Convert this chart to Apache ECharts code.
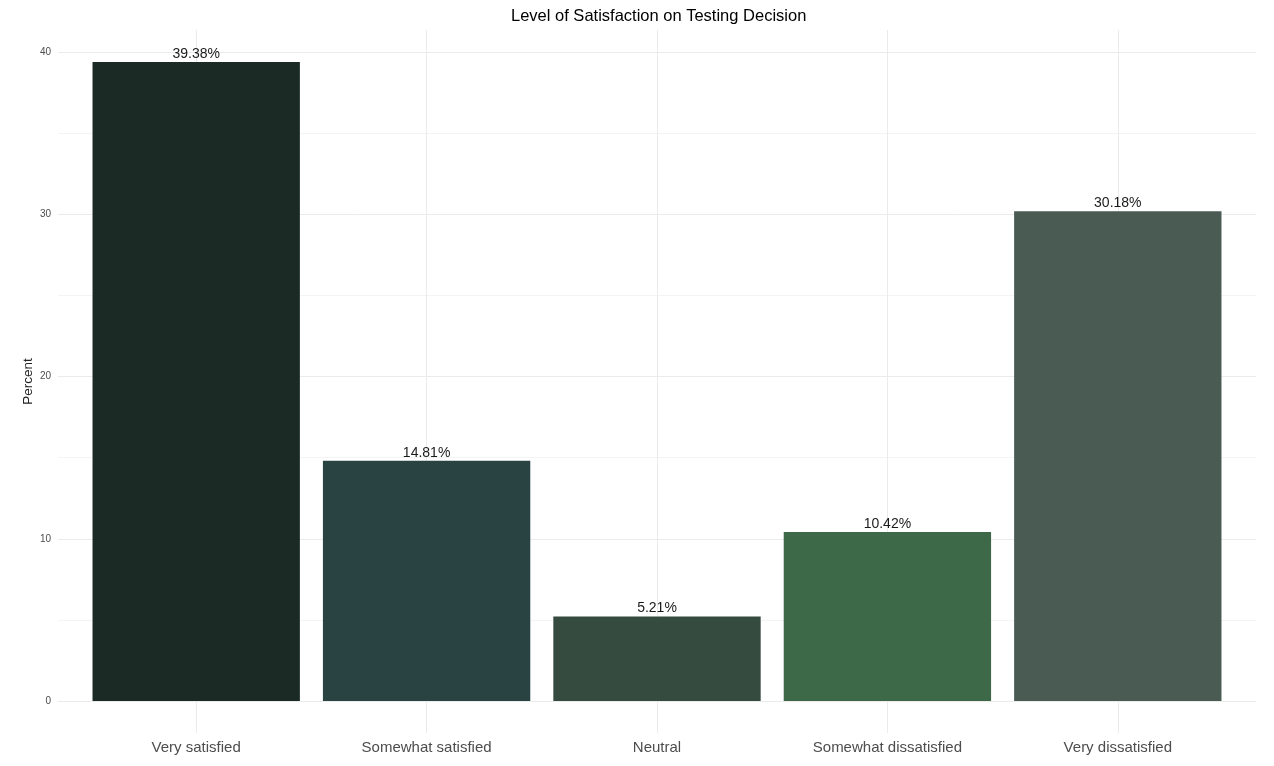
<!DOCTYPE html>
<html><head><meta charset="utf-8">
<script src="https://cdn.jsdelivr.net/npm/echarts@6/dist/echarts.min.js"></script>
<style>html,body{margin:0;padding:0;background:#fff}#c{width:1274px;height:766px}</style>
</head><body><div id="c"></div>
<script>
const categories = ['Very satisfied', 'Somewhat satisfied', 'Neutral', 'Somewhat dissatisfied', 'Very dissatisfied'];
const percents = [39.38, 14.81, 5.21, 10.42, 30.18];
const barColors = ['#1c2a26', '#284341', '#354b3f', '#3e6949', '#4a5b54'];
const yTickLabels = [0, 10, 20, 30, 40];
const titleText = 'Level of Satisfaction on Testing Decision';
const yName = 'Percent';

const FONT = '"Liberation Sans", Arial, Helvetica, sans-serif';
const yMin = yTickLabels[0], yMax = yTickLabels[yTickLabels.length - 1];
const chart = echarts.init(document.getElementById('c'), null, {renderer: 'canvas'});
chart.setOption({
  backgroundColor: '#ffffff',
  animation: false,
  textStyle: {fontFamily: FONT},
  title: {
    text: titleText, left: 506, top: 3,
    textStyle: {fontFamily: FONT, fontSize: 16.5, fontWeight: 'normal', color: '#000'}
  },
  grid: [
    {left: 81, right: 41, top: 52, bottom: 65},      // bars
    {left: 58, right: 18, top: 52, bottom: 65},      // horizontal grid + y labels
    {left: 196.2, right: 156.2, top: 30, bottom: 33} // vertical grid lines
  ],
  xAxis: [
    {gridIndex: 0, type: 'category', data: categories,
     axisLine: {show: false}, axisTick: {show: false}, splitLine: {show: false},
     axisLabel: {margin: 39, fontSize: 15, color: '#4d4d4d', fontFamily: FONT}},
    {gridIndex: 1, type: 'value', show: false, min: 0, max: 1},
    {gridIndex: 2, type: 'value', min: 1, max: categories.length, interval: 1,
     axisLine: {show: false}, axisTick: {show: false}, axisLabel: {show: false},
     splitLine: {show: true, showMinLine: true, showMaxLine: true, lineStyle: {color: '#ebebeb', width: 1}}}
  ],
  yAxis: [
    {gridIndex: 0, type: 'value', min: yMin, max: yMax, show: false, splitLine: {show: false}},
    {gridIndex: 1, type: 'value', min: yMin, max: yMax, interval: 5,
     axisLine: {show: false}, axisTick: {show: false},
     axisLabel: {margin: 7, fontSize: 10, color: '#4d4d4d', fontFamily: FONT,
       formatter: v => (yTickLabels.indexOf(v) >= 0 ? String(v) : '')},
     splitLine: {show: true, lineStyle: {color: ['#ebebeb', '#f4f4f4'], width: 1}}},
    {gridIndex: 2, type: 'value', min: 0, max: 1,
     axisLine: {show: false}, axisTick: {show: false}, axisLabel: {show: false}, splitLine: {show: false},
     name: yName, nameLocation: 'middle', nameRotate: 90, nameGap: 161,
     nameTextStyle: {fontSize: 13.5, color: '#222', fontFamily: FONT}}
  ],
  series: [{
    type: 'bar', xAxisIndex: 0, yAxisIndex: 0,
    barWidth: '90%',
    data: percents.map((v, i) => ({value: v, itemStyle: {color: barColors[i]}})),
    label: {show: true, position: 'top', distance: 1, fontSize: 14, color: '#1a1a1a', fontFamily: FONT,
      formatter: p => p.value.toFixed(2) + '%'}
  }]
});
</script></body></html>
